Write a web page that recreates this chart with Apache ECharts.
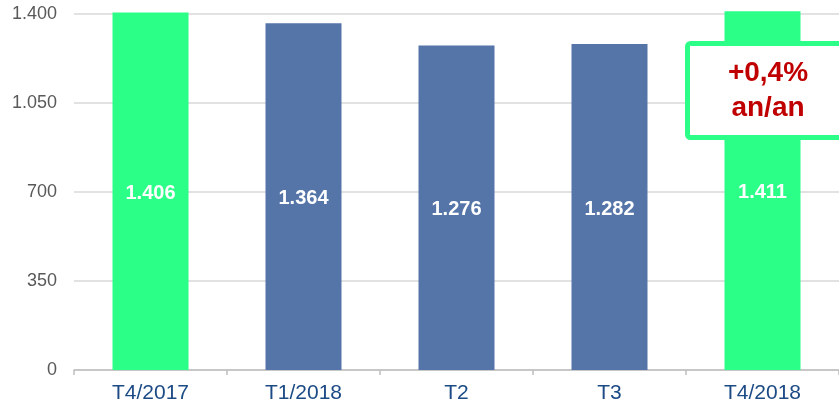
<!DOCTYPE html>
<html>
<head>
<meta charset="utf-8">
<script src="https://cdn.jsdelivr.net/npm/echarts@6/dist/echarts.min.js"></script>
<style>
  html, body { margin: 0; padding: 0; background: #fff; }
  #chart { width: 839px; height: 407px; }
</style>
</head>
<body>
<div id="chart"></div>
<script>
// categories and values
const categories = ['T4/2017', 'T1/2018', 'T2', 'T3', 'T4/2018']
const values = [1406, 1364, 1276, 1282, 1411]
const highlighted = [true, false, false, false, true]
const yTicks = [0, 350, 700, 1050, 1400]
const note = ['+0,4%', 'an/an']

const green = '#2BFF87'
const blue = '#5575A8'

// 1406 -> "1.406"
function fmt(v) {
  return String(v).replace(/\B(?=(\d{3})+(?!\d))/g, '.')
}

const chart = echarts.init(document.getElementById('chart'))
chart.setOption({
  animation: false,
  grid: { left: 74, top: 14, width: 770, height: 356, containLabel: false },
  xAxis: {
    type: 'category',
    data: categories,
    axisLine: { lineStyle: { color: '#BFBFBF', width: 1.5 } },
    axisTick: { show: true, length: 5, lineStyle: { color: '#BFBFBF', width: 1.5 } },
    axisLabel: {
      color: '#1B4A85',
      fontFamily: 'Liberation Sans',
      fontSize: 21,
      margin: 13
    }
  },
  yAxis: {
    type: 'value',
    min: yTicks[0],
    max: yTicks[yTicks.length - 1],
    interval: yTicks[1] - yTicks[0],
    axisLine: { show: false },
    axisTick: { show: false },
    splitLine: { lineStyle: { color: '#D9D9D9', width: 1.5 } },
    axisLabel: {
      color: '#595959',
      fontFamily: 'Liberation Sans',
      fontSize: 18,
      margin: 17,
      formatter: v => fmt(v)
    }
  },
  series: [{
    type: 'bar',
    clip: false,
    barWidth: 76,
    data: values.map((v, i) => ({
      value: v,
      itemStyle: { color: highlighted[i] ? green : blue }
    })),
    label: {
      show: true,
      position: 'inside',
      offset: [0, 2],
      color: '#fff',
      fontFamily: 'Liberation Sans',
      fontWeight: 'bold',
      fontSize: 20,
      formatter: p => fmt(p.value)
    }
  }],
  graphic: [{
    type: 'rect',
    left: 685,
    top: 41,
    shape: { width: 170, height: 94, r: 3 },
    style: { fill: '#fff', stroke: green, lineWidth: 5 },
    z: 10
  }, {
    type: 'text',
    x: 768,
    y: 91,
    style: {
      text: note.join('\n'),
      fill: '#C00000',
      font: 'bold 28px "Liberation Sans"',
      lineHeight: 35,
      align: 'center',
      verticalAlign: 'middle'
    },
    z: 11
  }]
})
</script>
</body>
</html>
